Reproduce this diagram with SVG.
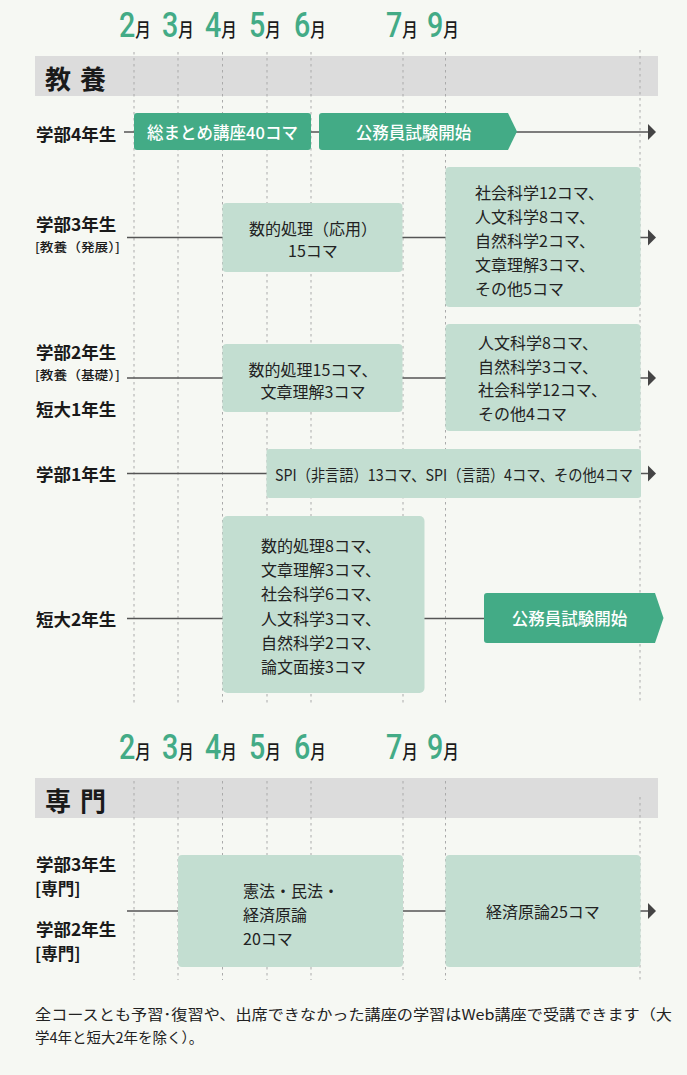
<svg xmlns="http://www.w3.org/2000/svg" width="687" height="1075" viewBox="0 0 687 1075">
<style>
.lbl{font-family:"Noto Sans CJK JP",sans-serif;font-weight:bold;font-size:17.5px;fill:#1a1a1a;dominant-baseline:central;}
.sub{font-family:"Noto Sans CJK JP",sans-serif;font-weight:500;font-size:12.5px;fill:#1a1a1a;dominant-baseline:central;}
.sub2{font-family:"Noto Sans CJK JP",sans-serif;font-weight:bold;font-size:16.5px;fill:#1a1a1a;dominant-baseline:central;}
.bt{font-family:"Noto Sans CJK JP",sans-serif;font-size:16px;fill:#222;dominant-baseline:central;}
.wt{font-family:"Noto Sans CJK JP",sans-serif;font-size:16.5px;fill:#fff;font-weight:500;dominant-baseline:central;text-anchor:middle;}
.dig{font-family:Roboto,"Liberation Sans",sans-serif;font-weight:500;font-size:35px;fill:#43ab86;}
.mon{font-family:"Noto Sans CJK JP",sans-serif;font-size:19px;fill:#1a1a1a;font-weight:500;}
.sec{font-family:"Noto Sans CJK JP",sans-serif;font-weight:bold;font-size:26px;fill:#1a1a1a;letter-spacing:9px;dominant-baseline:central;}
.band{fill:#dcdcdc;}
.lt{fill:#c3ded1;}
.dk{fill:#43ab86;}
.dash{stroke:#aaaaaa;stroke-width:1;stroke-dasharray:2.5 3.5;fill:none;}
.row{stroke:#555;stroke-width:1.3;fill:none;}
.arr{fill:#444;}
.note{font-family:"Noto Sans CJK JP",sans-serif;font-size:14.5px;fill:#222;dominant-baseline:central;}
</style>
<rect width="687" height="1075" fill="#f6f8f3"/>

<!-- Section 1 header -->
<g id="months1">
<text transform="translate(119,37) scale(0.82,1)"><tspan class="dig">2</tspan><tspan class="mon">月</tspan></text>
<text transform="translate(162,37) scale(0.82,1)"><tspan class="dig">3</tspan><tspan class="mon">月</tspan></text>
<text transform="translate(205,37) scale(0.82,1)"><tspan class="dig">4</tspan><tspan class="mon">月</tspan></text>
<text transform="translate(249,37) scale(0.82,1)"><tspan class="dig">5</tspan><tspan class="mon">月</tspan></text>
<text transform="translate(294,37) scale(0.82,1)"><tspan class="dig">6</tspan><tspan class="mon">月</tspan></text>
<text transform="translate(386,37) scale(0.82,1)"><tspan class="dig">7</tspan><tspan class="mon">月</tspan></text>
<text transform="translate(427,37) scale(0.82,1)"><tspan class="dig">9</tspan><tspan class="mon">月</tspan></text>
</g>
<g id="band1">
<rect class="band" x="35" y="56" width="623" height="40"/>
<text class="sec" x="45" y="77">教養</text>
</g>

<!-- Section 2 header -->
<g id="months2">
<text transform="translate(119,759) scale(0.82,1)"><tspan class="dig">2</tspan><tspan class="mon">月</tspan></text>
<text transform="translate(162,759) scale(0.82,1)"><tspan class="dig">3</tspan><tspan class="mon">月</tspan></text>
<text transform="translate(205,759) scale(0.82,1)"><tspan class="dig">4</tspan><tspan class="mon">月</tspan></text>
<text transform="translate(249,759) scale(0.82,1)"><tspan class="dig">5</tspan><tspan class="mon">月</tspan></text>
<text transform="translate(294,759) scale(0.82,1)"><tspan class="dig">6</tspan><tspan class="mon">月</tspan></text>
<text transform="translate(386,759) scale(0.82,1)"><tspan class="dig">7</tspan><tspan class="mon">月</tspan></text>
<text transform="translate(427,759) scale(0.82,1)"><tspan class="dig">9</tspan><tspan class="mon">月</tspan></text>
</g>
<g id="band2">
<rect class="band" x="35" y="778" width="623" height="40"/>
<text class="sec" x="45" y="799">専門</text>
</g>

<!-- grid -->
<g id="grid">
<path class="dash" d="M134,52V706M178,52V706M222.5,52V706M267,52V706M311,52V706M403,52V706M445.5,52V706M640,50V703"/>
<path class="dash" d="M134,781V980M178,781V980M222.5,781V980M267,781V980M311,781V980M403,781V980M445.5,781V980M640,797V980"/>
</g>

<!-- connectors -->
<g id="connectors">
<path class="row" d="M124,132H648"/>
<polygon class="arr" points="648,124 656,132 648,140"/>
<path class="row" d="M127,237.5H648"/>
<polygon class="arr" points="648,229.5 656,237.5 648,245.5"/>
<path class="row" d="M127,378H648"/>
<polygon class="arr" points="648,370 656,378 648,386"/>
<path class="row" d="M127,473.5H648"/>
<polygon class="arr" points="648,465.5 656,473.5 648,481.5"/>
<path class="row" d="M127,618.5H485"/>
<path class="row" d="M127,911H648"/>
<polygon class="arr" points="648,903 656,911 648,919"/>
</g>

<!-- labels -->
<g id="label-g4"><text class="lbl" x="36" y="133">学部4年生</text></g>
<g id="label-g3"><text class="lbl" x="36" y="223">学部3年生</text><text class="sub" x="35" y="246" textLength="85" lengthAdjust="spacingAndGlyphs">[教養（発展）]</text></g>
<g id="label-g2"><text class="lbl" x="36" y="351">学部2年生</text><text class="sub" x="35" y="374" textLength="85" lengthAdjust="spacingAndGlyphs">[教養（基礎）]</text><text class="lbl" x="36" y="408">短大1年生</text></g>
<g id="label-g1"><text class="lbl" x="36" y="473">学部1年生</text></g>
<g id="label-t2"><text class="lbl" x="36" y="618">短大2年生</text></g>
<g id="label-s"><text class="lbl" x="36" y="863">学部3年生</text><text class="sub2" x="35" y="888">[専門]</text><text class="lbl" x="36" y="928">学部2年生</text><text class="sub2" x="35" y="953">[専門]</text></g>

<!-- row 4年生 -->
<g id="g4-matome">
<rect class="dk" x="134" y="113" width="177" height="37" rx="3"/>
<text class="wt" x="222.5" y="131.5">総まとめ講座40コマ</text>
</g>
<g id="g4-exam">
<path class="dk" d="M322,113H508L517,131.5L508,150H322Q319,150 319,147V116Q319,113 322,113Z"/>
<text class="wt" x="413.5" y="131.5">公務員試験開始</text>
</g>

<!-- row 3年生 -->
<g id="g3-a">
<rect class="lt" x="222.5" y="203" width="180" height="69" rx="4"/>
<text class="bt" x="313" y="228" text-anchor="middle">数的処理（応用）</text>
<text class="bt" x="313" y="250" text-anchor="middle">15コマ</text>
</g>
<g id="g3-b">
<rect class="lt" x="445.5" y="167" width="195" height="140" rx="4"/>
<text class="bt" x="475" y="192">社会科学12コマ、</text>
<text class="bt" x="475" y="216">人文科学8コマ、</text>
<text class="bt" x="475" y="240">自然科学2コマ、</text>
<text class="bt" x="475" y="264">文章理解3コマ、</text>
<text class="bt" x="475" y="288">その他5コマ</text>
</g>

<!-- row 2年生 -->
<g id="g2-a">
<rect class="lt" x="222.5" y="344" width="180" height="68" rx="4"/>
<text class="bt" x="313" y="369" text-anchor="middle">数的処理15コマ、</text>
<text class="bt" x="313" y="391" text-anchor="middle">文章理解3コマ</text>
</g>
<g id="g2-b">
<rect class="lt" x="445.5" y="324" width="195" height="107" rx="4"/>
<text class="bt" x="478" y="342">人文科学8コマ、</text>
<text class="bt" x="478" y="365.5">自然科学3コマ、</text>
<text class="bt" x="478" y="389">社会科学12コマ、</text>
<text class="bt" x="478" y="412.5">その他4コマ</text>
</g>

<!-- row 1年生 -->
<g id="g1-a">
<rect class="lt" x="266.5" y="449" width="374.5" height="49" rx="3"/>
<text class="bt" x="454" y="473.5" text-anchor="middle" textLength="358" lengthAdjust="spacingAndGlyphs">SPI（非言語）13コマ、SPI（言語）4コマ、その他4コマ</text>
</g>

<!-- row 短大2年生 -->
<g id="t2-a">
<rect class="lt" x="222.5" y="516" width="202" height="177" rx="5"/>
<text class="bt" x="261" y="545">数的処理8コマ、</text>
<text class="bt" x="261" y="569">文章理解3コマ、</text>
<text class="bt" x="261" y="593">社会科学6コマ、</text>
<text class="bt" x="261" y="618">人文科学3コマ、</text>
<text class="bt" x="261" y="642">自然科学2コマ、</text>
<text class="bt" x="261" y="666">論文面接3コマ</text>
</g>
<g id="t2-exam">
<path class="dk" d="M487,593H655L663.5,618L655,643H487Q484,643 484,640V596Q484,593 487,593Z"/>
<text class="wt" x="569.5" y="618">公務員試験開始</text>
</g>

<!-- 専門 rows -->
<g id="s-a">
<rect class="lt" x="178" y="855" width="225" height="112" rx="4"/>
<text class="bt" x="243" y="890">憲法・民法・</text>
<text class="bt" x="243" y="914">経済原論</text>
<text class="bt" x="243" y="938">20コマ</text>
</g>
<g id="s-b">
<rect class="lt" x="445.5" y="855" width="195" height="112" rx="4"/>
<text class="bt" x="543" y="911" text-anchor="middle">経済原論25コマ</text>
</g>

<!-- footnote -->
<g id="note">
<text class="note" x="35" y="1013" textLength="637" lengthAdjust="spacingAndGlyphs">全コースとも予習･復習や、出席できなかった講座の学習はWeb講座で受講できます（大</text>
<text class="note" x="35" y="1036">学4年と短大2年を除く）。</text>
</g>
</svg>
